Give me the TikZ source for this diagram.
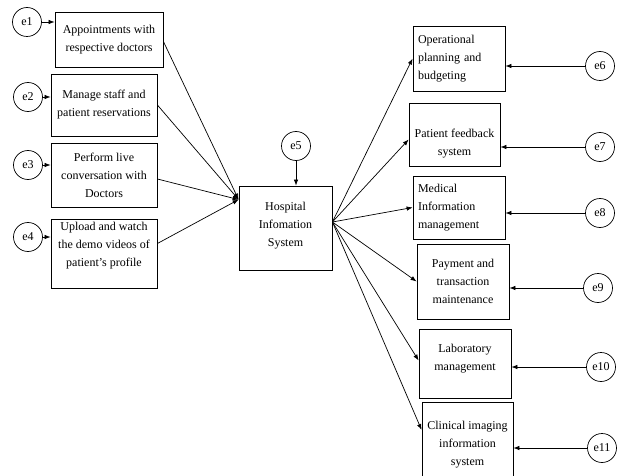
\documentclass[tikz,border=0pt]{standalone}
\usepackage{fontspec}
\setmainfont{Liberation Serif}
\usetikzlibrary{arrows.meta}

\begin{document}
\begin{tikzpicture}[x=1pt,y=-1pt,
	box/.style={draw,line width=0.8pt,align=center,inner sep=0pt,font=\fontsize{12}{18}\selectfont},
	lbox/.style={box,align=left,text width=82pt},
	err/.style={draw,circle,line width=0.7pt,minimum size=29pt,inner sep=0pt,font=\fontsize{12}{14}\selectfont},
	link/.style={line width=0.7pt,-{Latex[length=6pt,width=4.5pt]}}]
						\useasboundingbox (0,0) rectangle (621,476);
						\node[box,minimum width=108pt,minimum height=55pt] (apt) at (109,39.5) {Appointments with\\respective doctors};
						\node[box,minimum width=106pt,minimum height=62pt] (staff) at (104,105) {Manage staff and\\patient reservations};
						\node[box,minimum width=106pt,minimum height=64pt] (live) at (104,175) {Perform live\\conversation with\\Doctors};
						\node[box,minimum width=106pt,minimum height=69pt] (video) at (104,253.5) {Upload and watch\\the demo videos of\\patient’s profile\\\mbox{}};
						\node[box,minimum width=93pt,minimum height=84pt] (his) at (285.5,228) {Hospital\\Infomation\\System\\[-10pt]\mbox{}};
						\node[lbox,minimum width=92pt,minimum height=65pt] (plan) at (459,58.5) {Operational\\planning and\\budgeting};
						\node[box,minimum width=91pt,minimum height=63pt] (feed) at (454.5,134.5) {\mbox{}\\[8pt]Patient feedback\\system};
						\node[lbox,minimum width=92pt,minimum height=63pt] (med) at (459,207.5) {Medical\\Information\\management};
						\node[box,minimum width=92pt,minimum height=75pt] (pay) at (463,281.5) {Payment and\\transaction\\maintenance};
						\node[box,minimum width=92pt,minimum height=69pt] (lab) at (465,363.5) {Laboratory\\management\\[-5pt]\mbox{}};
						\node[box,minimum width=91pt,minimum height=86pt] (img) at (467.5,445) {Clinical imaging\\information\\system};
						\node[err] (e1) at (27,22) {e1};
						\node[err] (e2) at (28,97) {e2};
						\node[err] (e3) at (28,165) {e3};
						\node[err] (e4) at (28,237) {e4};
						\node[err] (e5) at (296,146) {e5};
						\node[err] (e6) at (600,66) {e6};
						\node[err] (e7) at (600,147) {e7};
						\node[err] (e8) at (600,213) {e8};
						\node[err] (e9) at (598,288) {e9};
						\node[err] (e10) at (601,367) {e10};
						\node[err] (e11) at (602,448) {e11};
						\coordinate (hin) at ([yshift=-14pt]his.north west);
						\coordinate (hout) at ([yshift=6pt]his.east);
						\draw[link] (e1.east) -- (e1.east -| apt.west);
						\draw[link] (e2.east) -- (e2.east -| staff.west);
						\draw[link] (e3.east) -- (e3.east -| live.west);
						\draw[link] (e4.east) -- (e4.east -| video.west);
						\draw[link] (e5.south) -- (e5.south |- his.north);
						\draw[link] (e6.west) -- (e6.west -| plan.east);
						\draw[link] (e7.west) -- (e7.west -| feed.east);
						\draw[link] (e8.west) -- (e8.west -| med.east);
						\draw[link] (e9.west) -- (e9.west -| pay.east);
						\draw[link] (e10.west) -- (e10.west -| lab.east);
						\draw[link] (e11.west) -- (e11.west -| img.east);
						\draw[link] ([yshift=-2pt]apt.east) -- (hin);
						\draw[link] (staff.east) -- (hin);
						\draw[link] ([yshift=-4pt]live.east) -- (hin);
						\draw[link] ([yshift=10pt]video.east) -- (hin);
						\draw[link] (hout) -- (plan.west);
						\draw[link] (hout) -- ([yshift=-5pt]feed.west);
						\draw[link] (hout) -- (med.west);
						\draw[link] (hout) -- (pay.west);
						\draw[link] (hout) -- ([yshift=3pt]lab.west);
						\draw[link] (hout) -- ([yshift=15pt]img.west);
					\end{tikzpicture}
\end{document}
